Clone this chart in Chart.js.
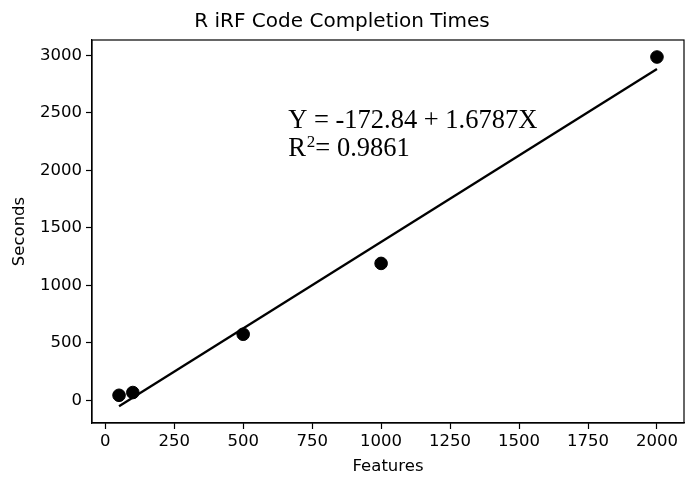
<!DOCTYPE html>
<html>
<head>
<meta charset="utf-8">
<script src="https://cdn.jsdelivr.net/npm/chart.js@4/dist/chart.umd.min.js"></script>
<style>
html,body{margin:0;padding:0;background:#fff;}
#wrap{width:695px;height:485px;position:relative;}
</style>
</head>
<body>
<div id="wrap"><canvas id="c" width="695" height="485"></canvas></div>
<script>
// Data
const features = [50, 100, 500, 1000, 2000];
const seconds = [43, 67, 574, 1190, 2985];
const fitX = [50, 2000];
const fitY = [-52, 2881];
const xTicks = [0, 250, 500, 750, 1000, 1250, 1500, 1750, 2000];
const yTicks = [0, 500, 1000, 1500, 2000, 2500, 3000];
const titleText = 'R iRF Code Completion Times';
const xLabel = 'Features';
const yLabel = 'Seconds';
const eqLine1 = 'Y = -172.84 + 1.6787X';
const eqLine2a = 'R';
const eqLine2sup = '2';
const eqLine2b = '= 0.9861';
const eqPos = [663, 2428];

const FONT = 'DejaVu Sans';

const boxPlugin = {
  id: 'boxAndText',
  afterDatasetsDraw(chart) {
    const ctx = chart.ctx, a = chart.chartArea;
    ctx.save();
    ctx.strokeStyle = '#000';
    ctx.lineWidth = 1.2;
    ctx.strokeRect(a.left, a.top, a.right - a.left, a.bottom - a.top);
    const xs = chart.scales.x, ys = chart.scales.y;
    const px = xs.getPixelForValue(eqPos[0]);
    const py = ys.getPixelForValue(eqPos[1]);
    ctx.fillStyle = '#000';
    ctx.textBaseline = 'middle';
    ctx.textAlign = 'left';
    ctx.font = '26.5px "Liberation Serif"';
    ctx.fillText(eqLine1, px, py);
    const py2 = py + 28;
    ctx.fillText(eqLine2a, px, py2);
    let w = ctx.measureText(eqLine2a).width;
    ctx.font = '17px "Liberation Serif"';
    ctx.fillText(eqLine2sup, px + w + 1, py2 - 7);
    w += ctx.measureText(eqLine2sup).width + 1;
    ctx.font = '26.5px "Liberation Serif"';
    ctx.fillText(eqLine2b, px + w, py2);
    ctx.restore();
  }
};

new Chart(document.getElementById('c'), {
  type: 'scatter',
  data: {
    datasets: [
      {
        label: 'Times',
        data: features.map((x, i) => ({x: x, y: seconds[i]})),
        backgroundColor: '#000',
        borderColor: '#000',
        pointRadius: 6.3,
        pointHoverRadius: 6.3,
        showLine: false,
        order: 1
      },
      {
        label: 'Fit',
        data: fitX.map((x, i) => ({x: x, y: fitY[i]})),
        borderColor: '#000',
        backgroundColor: '#000',
        borderWidth: 2.3,
        pointRadius: 0,
        showLine: true,
        fill: false,
        order: 2
      }
    ]
  },
  options: {
    responsive: false,
    animation: false,
    devicePixelRatio: 1,
    layout: {padding: {left: 0, right: 11, top: 0, bottom: 0}},
    plugins: {
      legend: {display: false},
      tooltip: {enabled: false},
      title: {
        display: true,
        text: titleText,
        color: '#000',
        font: {family: FONT, size: 20, weight: 'normal'},
        padding: {top: 10, bottom: 6}
      }
    },
    scales: {
      x: {
        type: 'linear',
        min: -48,
        max: 2098,
        afterBuildTicks: s => { s.ticks = xTicks.map(v => ({value: v})); },
        afterFit: s => { s.height = 62; },
        grid: {drawOnChartArea: false, drawTicks: true, tickLength: 6, color: '#000', tickWidth: 1.2},
        border: {display: true, color: '#000', width: 1.2},
        ticks: {color: '#000', font: {family: FONT, size: 16.5}, padding: 3, maxRotation: 0, callback: v => String(v)},
        title: {display: true, text: xLabel, color: '#000', font: {family: FONT, size: 16.5}, padding: {top: 2, bottom: 8.1}}
      },
      y: {
        type: 'linear',
        min: -198,
        max: 3133,
        afterBuildTicks: s => { s.ticks = yTicks.map(v => ({value: v})); },
        afterFit: s => { s.width = 92; },
        grid: {drawOnChartArea: false, drawTicks: true, tickLength: 6, color: '#000', tickWidth: 1.2},
        border: {display: true, color: '#000', width: 1.2},
        ticks: {color: '#000', font: {family: FONT, size: 16.5}, padding: 4, callback: v => String(v)},
        title: {display: true, text: yLabel, color: '#000', font: {family: FONT, size: 16.5}, padding: {top: 10.1, bottom: 4}}
      }
    }
  },
  plugins: [boxPlugin]
});
</script>
</body>
</html>
